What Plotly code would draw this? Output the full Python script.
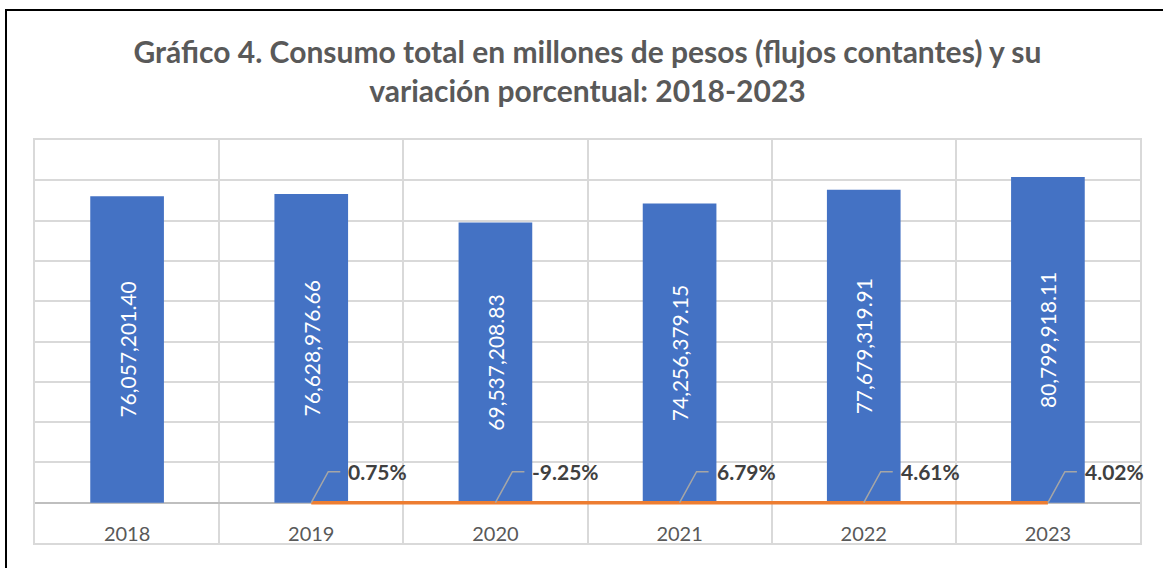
import plotly.graph_objects as go

years = ["2018", "2019", "2020", "2021", "2022", "2023"]
consumo = [76057201.40, 76628976.66, 69537208.83, 74256379.15, 77679319.91, 80799918.11]
var_years = ["2019", "2020", "2021", "2022", "2023"]
variacion = [0.75, -9.25, 6.79, 4.61, 4.02]  # percent

FONT = "Lato"
W, H = 1163, 568
ML, MR, MT, MB = 35, 23, 140, 25
PW, PH = W - ML - MR, H - MT - MB

def px_to_paper_x(px):
    return (px - ML) / PW

def px_to_paper_y(py):
    return (H - MB - py) / PH

fig = go.Figure()

fig.add_trace(go.Bar(
    x=years, y=consumo,
    marker=dict(color="#4472C4", line=dict(width=0)),
    text=[f"{v:,.2f}" for v in consumo],
    textposition="inside", textangle=-90, insidetextanchor="middle",
    textfont=dict(family=FONT, size=21, color="white"),
    cliponaxis=False, hoverinfo="skip",
))

fig.add_trace(go.Scatter(
    x=var_years, y=[v / 100 for v in variacion],
    mode="lines", line=dict(color="#ED7D31", width=3.5),
    hoverinfo="skip",
))

# category labels inside the bottom band
fig.add_trace(go.Scatter(
    x=years, y=[-8.3e6] * len(years), mode="text", text=years,
    textfont=dict(family=FONT, size=20, color="#595959"),
    hoverinfo="skip",
))

shapes = []
annotations = []
for yr, v in zip(var_years, variacion):
    idx = years.index(yr)
    shapes.append(dict(
        type="path", xref="x", yref="y",
        xsizemode="pixel", ysizemode="pixel",
        xanchor=idx, yanchor=v / 100,
        path="M0,0 L17,31 L29,31",
        line=dict(color="#A6A6A6", width=1.5),
    ))
    annotations.append(dict(
        x=idx, y=v / 100, xref="x", yref="y",
        text=f"<b>{v:.2f}%</b>", showarrow=False,
        xanchor="left", yanchor="middle", xshift=35, yshift=31,
        font=dict(family=FONT, size=21, color="#404040"),
    ))

# outer chart border
shapes.append(dict(
    type="rect", xref="paper", yref="paper",
    x0=px_to_paper_x(6), x1=px_to_paper_x(1175),
    y0=px_to_paper_y(10), y1=px_to_paper_y(580),
    line=dict(color="black", width=2), fillcolor="rgba(0,0,0,0)",
    layer="above",
))

fig.update_layout(
    width=W, height=H,
    margin=dict(l=ML, r=MR, t=MT, b=MB),
    paper_bgcolor="white", plot_bgcolor="white",
    showlegend=False,
    bargap=0.6,
    title=dict(
        text="<b>Gráfico 4. Consumo total en millones de pesos (flujos contantes) y su<br>variación porcentual: 2018-2023</b>",
        x=0.5, xref="paper", xanchor="center",
        y=1 - 63 / H, yref="container", yanchor="middle",
        font=dict(family=FONT, size=30, color="#595959"),
    ),
    xaxis=dict(
        type="category", categoryorder="array", categoryarray=years,
        range=[-0.5, 5.5], showticklabels=False, ticks="",
        tickson="boundaries", showgrid=True, gridcolor="#D9D9D9", gridwidth=1.5,
        showline=True, linecolor="#D9D9D9", linewidth=1.5, mirror=True,
        zeroline=False, fixedrange=True,
    ),
    yaxis=dict(
        range=[-10e6, 90e6], dtick=10e6, showticklabels=False, ticks="",
        showgrid=True, gridcolor="#D9D9D9", gridwidth=1.5,
        zeroline=True, zerolinecolor="#BFBFBF", zerolinewidth=2,
        showline=True, linecolor="#D9D9D9", linewidth=1.5, mirror=True,
        fixedrange=True,
    ),
    shapes=shapes,
    annotations=annotations,
)

fig.write_html("out.html", config={"displayModeBar": False},
               post_script="document.body.style.margin='0';")
